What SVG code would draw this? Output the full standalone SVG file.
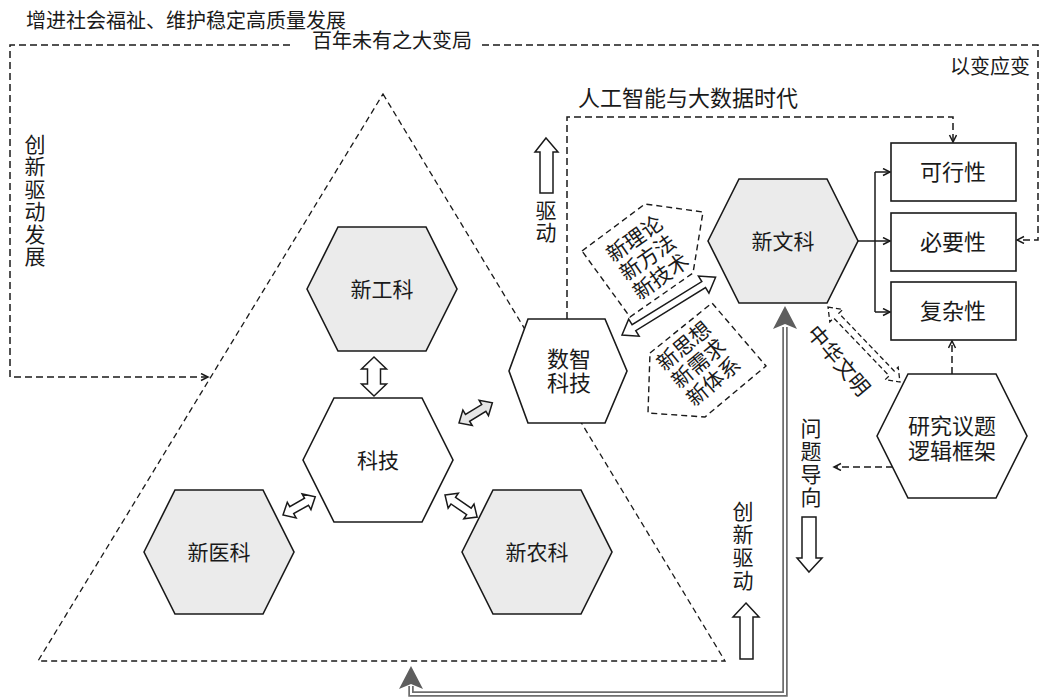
<svg xmlns="http://www.w3.org/2000/svg" width="1040" height="697" viewBox="0 0 1040 697">
<defs>
<style>
text{font-family:"Liberation Serif","Noto Sans CJK SC",serif;fill:#1a1a1a;}
.t20{font-size:20px;}
.t21{font-size:21px;}
.t22{font-size:22px;}
.c{text-anchor:middle;dominant-baseline:central;}
.hexg{fill:#ebebeb;stroke:#1a1a1a;stroke-width:1.6;}
.hexw{fill:#ffffff;stroke:#1a1a1a;stroke-width:1.6;}
.box{fill:#ffffff;stroke:#1a1a1a;stroke-width:1.6;}
.dash{fill:none;stroke:#1a1a1a;stroke-width:1.5;stroke-dasharray:7,4;}
.dasht{fill:none;stroke:#1a1a1a;stroke-width:1.3;stroke-dasharray:6,4;}
.solid{fill:none;stroke:#1a1a1a;stroke-width:1.5;}
.blk{fill:#ffffff;stroke:#1a1a1a;stroke-width:1.5;stroke-linejoin:miter;}
.blkg{fill:#e6e6e6;stroke:#1a1a1a;stroke-width:1.5;}
.blkd{fill:#ffffff;stroke:#1a1a1a;stroke-width:1.3;stroke-dasharray:5,3;}
.pent{fill:#ffffff;stroke:#1a1a1a;stroke-width:1.4;stroke-dasharray:6,4;}
</style>
<marker id="ah" markerWidth="10" markerHeight="10" refX="8" refY="4" orient="auto" markerUnits="userSpaceOnUse">
<path d="M1,0.5 L8,4 L1,7.5" fill="none" stroke="#1a1a1a" stroke-width="1.5"/>
</marker>
</defs>

<!-- texts outside nodes -->
<g id="labels">
<text class="t20" x="26" y="28">增进社会福祉、维护稳定高质量发展</text>
<text class="t20 c" x="392" y="41">百年未有之大变局</text>
<text class="t20" x="1030" y="67" text-anchor="end" dominant-baseline="central">以变应变</text>
<text class="t22" x="578" y="98" dominant-baseline="central">人工智能与大数据时代</text>
<text class="t21 c" x="35"><tspan x="35" y="145">创</tspan><tspan x="35" y="167">新</tspan><tspan x="35" y="190">驱</tspan><tspan x="35" y="212">动</tspan><tspan x="35" y="235">发</tspan><tspan x="35" y="257">展</tspan></text>
<text class="t21 c" x="546"><tspan x="546" y="211">驱</tspan><tspan x="546" y="233">动</tspan></text>
<text class="t21 c" x="811"><tspan x="811" y="429">问</tspan><tspan x="811" y="452">题</tspan><tspan x="811" y="475">导</tspan><tspan x="811" y="498">向</tspan></text>
<text class="t21 c" x="743"><tspan x="743" y="512">创</tspan><tspan x="743" y="535">新</tspan><tspan x="743" y="558">驱</tspan><tspan x="743" y="581">动</tspan></text>
</g>

<!-- triangle frame -->
<g id="triangle">
<polygon class="dasht" points="383,94 725,661 38,661"/>
</g>

<!-- connectors -->
<g id="connectors">
<path class="dash" d="M290,45 L10,45 L10,377 L208,377" marker-end="url(#ah)"/>
<path class="dash" d="M482,45 L1038,45 L1038,240 L1017,240" marker-end="url(#ah)"/>
<path class="dash" d="M567,319 L567,117 L953,117 L953,142" marker-end="url(#ah)"/>
<path class="solid" d="M858,241 L875,241"/>
<path class="solid" d="M875,172 L875,312"/>
<path class="solid" d="M875,172 L890,172" marker-end="url(#ah)"/>
<path class="solid" d="M875,241 L890,241" marker-end="url(#ah)"/>
<path class="solid" d="M875,312 L890,312" marker-end="url(#ah)"/>
<path class="dash" d="M952,374 L952,341" marker-end="url(#ah)"/>
<path class="dash" d="M893,467 L834,467" marker-end="url(#ah)"/>
<!-- gray double line arrow -->
<path d="M785,327 L785,694 L411,694 L411,686" fill="none" stroke="#6e6e6e" stroke-width="5.5"/>
<path d="M785,327 L785,694 L411,694 L411,686" fill="none" stroke="#ffffff" stroke-width="2"/>
<polygon points="785,306 797,329 785,324 773,329" fill="#5e5e5e"/>
<polygon points="411,666 423,689 411,684 399,689" fill="#5e5e5e"/>
<!-- block arrows -->
<polygon class="blk" points="546,138 558,152 553,152 553,193 540,193 540,152 535,152"/>
<polygon class="blk" points="746,603 759,617 753,617 753,659 740,659 740,617 733,617"/>
<polygon class="blk" points="809,572 822,558 816,558 816,517 802,517 802,558 797,558"/>
<polygon class="blk" transform="translate(374,357) rotate(90)" points="0,0 12,-12.5 12,-6.5 27,-6.5 27,-12.5 39,0 27,12.5 27,6.5 12,6.5 12,12.5"/>
<polygon class="blk" transform="translate(283,515) rotate(-29.4)" points="0,0 10,-9 10,-4 27,-4 27,-9 37,0 27,9 27,4 10,4 10,9"/>
<polygon class="blk" transform="translate(445,495) rotate(34.5)" points="0,0 10,-9 10,-4 29,-4 29,-9 39,0 29,9 29,4 10,4 10,9"/>
<polygon class="blkg" transform="translate(459,423) rotate(-31.2)" points="0,0 10,-9 10,-4 29,-4 29,-9 39,0 29,9 29,4 10,4 10,9"/>
<polygon class="blk" transform="translate(622,335) rotate(-31.7)" points="0,0 14,-10 14,-3.5 96,-3.5 96,-10 110,0 96,10 96,3.5 14,3.5 14,10"/>
<polygon class="blkd" transform="translate(828,307) rotate(46.2)" points="0,0 12,-9 12,-3.5 92,-3.5 92,-9 104,0 92,9 92,3.5 12,3.5 12,9"/>
</g>

<!-- nodes -->
<g id="n-xingongke">
<polygon class="hexg" points="307,289 338,227 426,227 457,289 426,351 338,351"/>
<text class="t21 c" x="382" y="290">新工科</text>
</g>
<g id="n-keji">
<polygon class="hexw" points="303,460 334,398 422,398 453,460 422,522 334,522"/>
<text class="t21 c" x="378" y="461">科技</text>
</g>
<g id="n-xinyike">
<polygon class="hexg" points="144,552 175,490 263,490 294,552 263,614 175,614"/>
<text class="t21 c" x="219" y="553">新医科</text>
</g>
<g id="n-xinnongke">
<polygon class="hexg" points="462,552 493,490 581,490 612,552 581,614 493,614"/>
<text class="t21 c" x="537" y="553">新农科</text>
</g>
<g id="n-shuzhi">
<polygon class="hexw" points="509,371 528,319 605,319 627,371 605,423 528,423"/>
<text class="t22 c" x="569"><tspan x="569" y="359">数智</tspan><tspan x="569" y="383">科技</tspan></text>
</g>
<g id="n-xinwenke">
<polygon class="hexg" points="708,241 739,179 827,179 858,241 827,303 739,303"/>
<text class="t21 c" x="783" y="242">新文科</text>
</g>
<g id="n-yanjiu">
<polygon class="hexw" points="877,436 908,374 996,374 1027,436 996,498 908,498"/>
<text class="t22 c" x="952"><tspan x="952" y="426">研究议题</tspan><tspan x="952" y="451">逻辑框架</tspan></text>
</g>
<g id="n-kexing">
<rect class="box" x="891" y="143" width="125" height="58"/>
<text class="t22 c" x="953" y="172">可行性</text>
</g>
<g id="n-biyao">
<rect class="box" x="891" y="213" width="125" height="58"/>
<text class="t22 c" x="953" y="242">必要性</text>
</g>
<g id="n-fuza">
<rect class="box" x="891" y="282" width="125" height="58"/>
<text class="t22 c" x="953" y="311">复杂性</text>
</g>
<g id="n-pent1">
<polygon class="pent" points="582,251 645,204 703,212 693,273 630,317"/>
<g transform="translate(648,258) rotate(-35)">
<text class="t21 c" x="0" y="-23">新理论</text>
<text class="t21 c" x="0" y="0">新方法</text>
<text class="t21 c" x="0" y="23">新技术</text>
</g>
</g>
<g id="n-pent2">
<polygon class="pent" points="650,353 712,303 766,366 705,417 648,413"/>
<g transform="translate(699,364) rotate(-40)">
<text class="t21 c" x="0" y="-23">新思想</text>
<text class="t21 c" x="0" y="0">新需求</text>
<text class="t21 c" x="0" y="23">新体系</text>
</g>
</g>
<g id="n-zhonghua">
<text class="t21 c" transform="translate(838,361) rotate(50)" x="0" y="0">中华文明</text>
</g>
</svg>
